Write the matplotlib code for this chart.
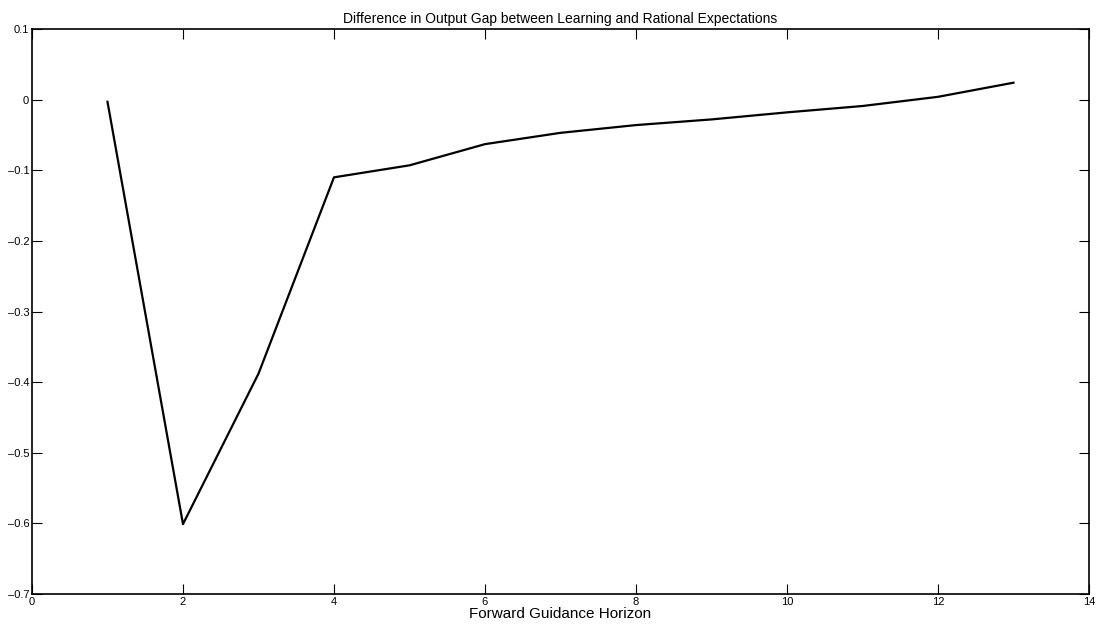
import matplotlib.pyplot as plt

plt.rcParams['font.family'] = ['Liberation Sans', 'DejaVu Sans']

# output gap difference (learning minus RE) by forward guidance horizon
horizon = [1, 2, 3, 4, 5, 6, 7, 8, 9, 10, 11, 12, 13]
gap_diff = [-0.003, -0.601, -0.388, -0.110, -0.093, -0.063, -0.047,
            -0.036, -0.028, -0.018, -0.009, 0.004, 0.024]

xticks = [0, 2, 4, 6, 8, 10, 12, 14]
yticks = [-0.7, -0.6, -0.5, -0.4, -0.3, -0.2, -0.1, 0, 0.1]

fig = plt.figure(figsize=(11.07, 6.27), dpi=100)
ax = fig.add_axes([0.0289, 0.0526, 0.9548, 0.9011])

ax.plot(horizon, gap_diff, color='black', linewidth=1.6)

ax.set_xlim(0, 14)
ax.set_ylim(-0.7, 0.1)
ax.set_xticks(xticks)
ax.set_xticklabels([str(t) for t in xticks])
ax.set_yticks(yticks)
ax.set_yticklabels([('%g' % t).replace('-', '\u2013') for t in yticks])

ax.tick_params(direction='in', length=7, width=0.8, top=True, right=True,
               labelsize=8, pad=2)
for s in ax.spines.values():
    s.set_linewidth(1.2)

ax.set_title('Difference in Output Gap between Learning and Rational Expectations',
             fontsize=10, pad=4)
ax.set_xlabel('Forward Guidance Horizon', fontsize=11, labelpad=0)

fig.savefig('out.png', dpi=100)
